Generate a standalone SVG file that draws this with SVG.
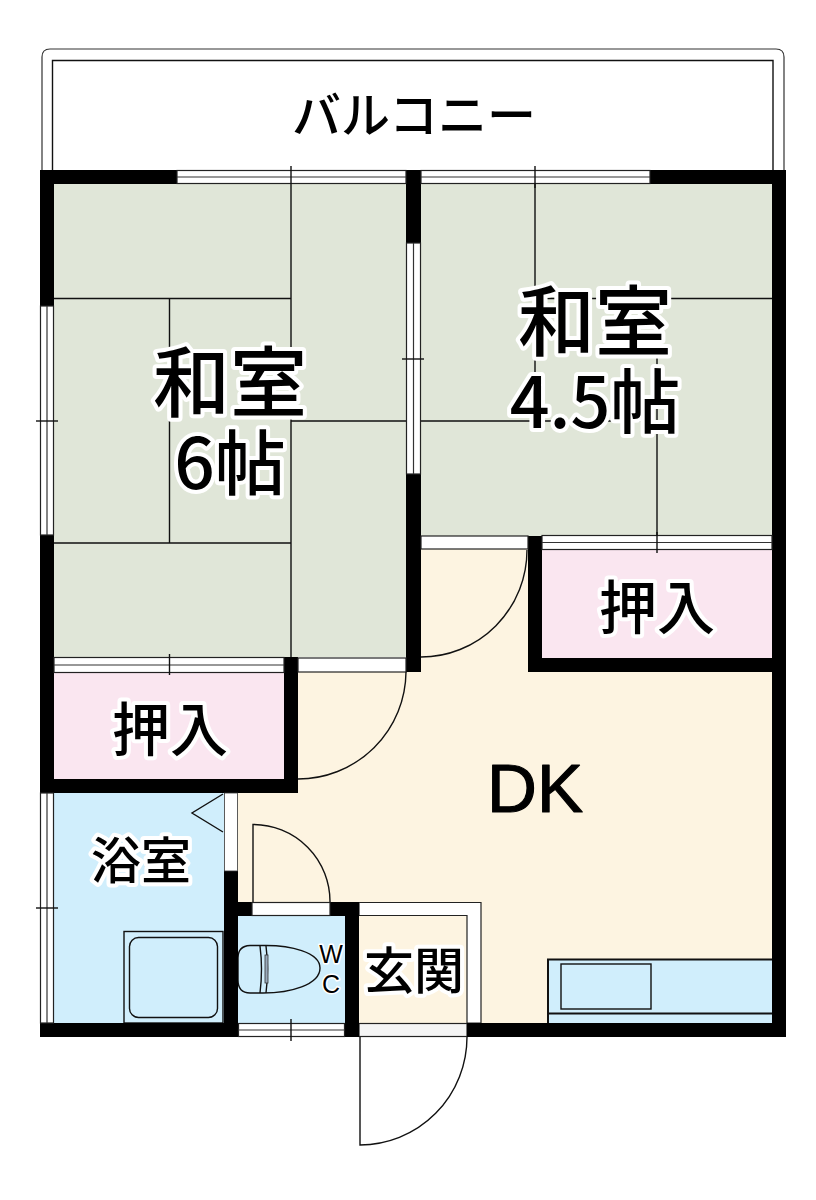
<svg xmlns="http://www.w3.org/2000/svg" width="816" height="1200" viewBox="0 0 816 1200">
<style>
.l{fill:none;stroke:#111;stroke-width:1.4}
.t{fill:none;stroke:#333;stroke-width:1.2}
.w{fill:#000}
.o{fill:#fff;stroke:#222;stroke-width:1.2}
text{font-family:"Noto Sans CJK JP","Liberation Sans",sans-serif;font-weight:500;fill:#000;text-anchor:middle;paint-order:stroke;stroke:#fff;stroke-width:8px;stroke-linejoin:round}
.s{font-family:"Liberation Sans",sans-serif;font-weight:400}
</style>
<rect width="816" height="1200" fill="#fff"/>
<g id="balcony">
<path class="t" d="M42 170V57q0-8 8-8H776q8 0 8 8V170"/>
<path class="l" d="M52.500 170V60.500H773V170"/>
<text x="414" y="133" font-size="49" style="stroke:none">バルコニー</text>
</g>
<g id="room-6">
<rect x="54" y="184" width="352" height="473" fill="#e0e6d8"/>
<path class="l" d="M291 184V657M54 298.500H291M169.500 298.500V543M54 543H291M291 421H406"/>
</g>
<g id="room-4-5">
<rect x="421" y="184" width="351" height="352" fill="#e0e6d8"/>
<path class="l" d="M535 184V421M535 298.500H772M421 421H657M657 298.500V536"/>
</g>
<g id="dk">
<path fill="#fdf4e1" d="M421 549H528V672H772V959H548V1023H481V902H359V902H238V793H298V672H421Z"/>
<rect x="359" y="915" width="108" height="108" fill="#fdf4e1"/>
</g>
<g id="closet-right"><rect x="542" y="550" width="230" height="108" fill="#fae6f0"/></g>
<g id="closet-left"><rect x="54" y="673" width="230" height="106" fill="#fae6f0"/></g>
<g id="bath">
<rect x="54" y="793" width="170" height="230" fill="#d0eefc"/>
<path class="l" d="M223 794L192 813L223 832"/>
<rect class="l" x="124" y="931.500" width="99" height="91.500"/>
<rect class="l" x="129.500" y="937.500" width="88" height="80" rx="9" stroke="#345"/>
</g>
<g id="wc">
<rect x="238" y="916" width="107" height="107" fill="#d0eefc"/>
<path class="l" d="M320 968C320 952 290 945 263 945.500H250Q238 946 238 958V980Q238 993 250 993H263C290 993 320 985 320 968Z"/>
<path class="l" d="M260 946Q263 969 260 993M266 946Q269 969 266 993"/>
<rect x="265" y="955" width="3" height="28" fill="#9ab" stroke="#333" stroke-width=".8"/>
</g>
<g id="kitchen">
<rect x="548" y="959" width="224" height="64" fill="#d0eefc"/>
<path class="l" d="M548 1023V959.500H772" style="stroke-width:2"/>
<rect class="l" x="561" y="964" width="90" height="45"/>
<path class="l" d="M548 1013.500H772" style="stroke-width:2"/>
</g>
<g id="entrance">
<path class="o" d="M359 902.500H481V1023H467V915.500H359Z"/>
<rect class="o" x="359" y="1023.500" width="108" height="13" style="fill:#f4f4f4"/>
</g>
<g id="walls">
<rect class="w" x="40" y="170" width="137" height="14"/>
<rect class="w" x="650" y="170" width="136" height="14"/>
<rect class="w" x="772" y="170" width="14" height="867"/>
<rect class="w" x="40" y="170" width="14" height="136"/>
<rect class="w" x="40" y="535" width="14" height="258"/>
<rect class="w" x="40" y="1023" width="198" height="14"/>
<rect class="w" x="467" y="1023" width="319" height="14"/>
<rect class="w" x="406" y="170" width="15" height="73"/>
<rect class="w" x="406" y="474" width="15" height="198"/>
<rect class="w" x="528" y="536" width="14" height="136"/>
<rect class="w" x="528" y="658" width="258" height="14"/>
<rect class="w" x="284" y="657" width="14" height="136"/>
<rect class="w" x="40" y="779" width="258" height="14"/>
<rect class="w" x="224" y="871" width="14" height="166"/>
<rect class="w" x="238" y="902" width="14" height="14"/>
<rect class="w" x="330" y="902" width="29" height="14"/>
<rect class="w" x="345" y="902" width="14" height="135"/>
</g>
<g id="openings">
<rect class="o" x="177" y="170.500" width="229" height="13"/>
<path class="t" d="M177 177H406"/>
<path class="l" d="M291 166V184"/>
<rect class="o" x="421" y="170.500" width="229" height="13"/>
<path class="t" d="M421 177H650"/>
<path class="l" d="M535 166V188"/>
<rect class="o" x="406.500" y="243" width="14" height="231"/>
<path class="t" d="M413.500 243V474"/>
<path class="l" d="M402 359H424"/>
<rect class="o" x="40.500" y="306" width="13" height="229"/>
<path class="t" d="M47 306V535"/>
<path class="l" d="M36 421H58"/>
<rect class="o" x="40.500" y="793" width="13" height="230"/>
<path class="t" d="M47 793V1023"/>
<path class="l" d="M36 908H58"/>
<rect class="o" x="238.500" y="1023.500" width="106" height="13"/>
<path class="t" d="M238 1030H345"/>
<path class="l" d="M291 1019V1041"/>
<rect class="o" x="54" y="657.500" width="230" height="15"/>
<path class="t" d="M54 665H284"/>
<path class="l" d="M169.500 654V675"/>
<rect class="o" x="542" y="535.500" width="230" height="14"/>
<path class="t" d="M542 542.500H772"/>
<path class="l" d="M657 532V553"/>
<rect class="o" x="298" y="658" width="108" height="14"/>
<rect class="o" x="421" y="536" width="107" height="13"/>
<rect class="o" x="252" y="902.500" width="78" height="13"/>
<rect x="224.500" y="793" width="13" height="78" fill="#fff" stroke="#333" stroke-width=".8"/>
</g>
<g id="connectors">
<path class="l" d="M406 672A108 108 0 0 1 298 779"/>
<path class="l" d="M527 550A106 107 0 0 1 421 657"/>
<path class="l" d="M253 902V824.500A77 77 0 0 1 330 902"/>
<path class="l" d="M360 1037V1145A107 108 0 0 0 467 1037"/>
</g>
<g id="labels">
<text x="230" y="411" font-size="77">和室</text>
<text x="230" y="489" font-size="71">6帖</text>
<text x="595" y="350" font-size="77">和室</text>
<text x="595" y="428" font-size="70">4.5帖</text>
<text x="657" y="629" font-size="58">押入</text>
<text x="170" y="751" font-size="58">押入</text>
<text class="s" x="535" y="812" font-size="69" style="stroke:#000;stroke-width:1.2px">DK</text>
<text x="141" y="879" font-size="50">浴室</text>
<text x="414" y="989" font-size="50">玄関</text>
<text class="s" x="331" y="963" font-size="25" style="stroke-width:3px">W</text>
<text class="s" x="331" y="993" font-size="25" style="stroke-width:3px">C</text>
</g>
</svg>
